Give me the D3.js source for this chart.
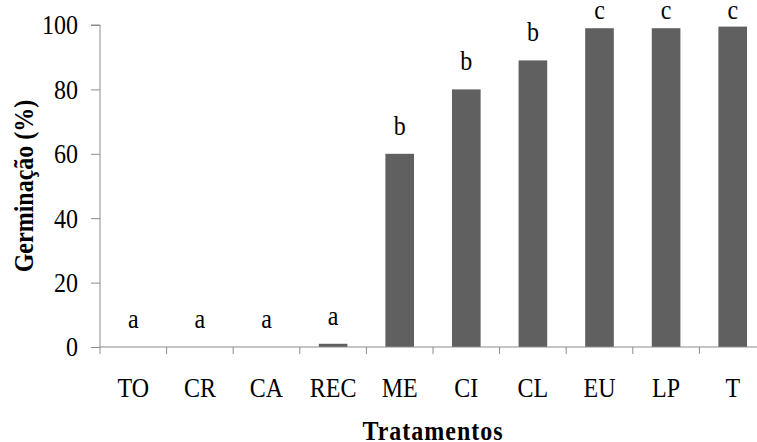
<!DOCTYPE html>
<html><head><meta charset="utf-8">
<script src="https://cdn.jsdelivr.net/npm/d3@7"></script>
<style>body{margin:0;background:#fff}svg{display:block}svg text{font-family:"Liberation Serif","Times New Roman",serif;fill:#000}</style>
</head><body><div id="c"></div>
<script>
const categories = ["TO","CR","CA","REC","ME","CI","CL","EU","LP","T"];
const values = [0,0,0,1,60,80,89,99,99,99.5];
const letters = ["a","a","a","a","b","b","b","c","c","c"];
const yTicks = [0,20,40,60,80,100];

const W=757,H=442, FS=24, SY=1.15;
const svg=d3.select("#c").append("svg").attr("width",W).attr("height",H);
const x=d3.scaleBand().domain(categories).range([100,766]).paddingInner(0.57).paddingOuter(0.285);
const y=d3.scaleLinear().domain([0,100]).range([347,25]);
const axisColor="#8c8c8c";

svg.append("g").selectAll("rect").data(categories).join("rect")
  .attr("x",d=>x(d)).attr("width",x.bandwidth())
  .attr("y",(d,i)=>y(values[i])).attr("height",(d,i)=>y(0)-y(values[i]))
  .attr("fill","#606060");

// y axis
const ya=svg.append("g").attr("transform","translate(100,0)")
  .call(d3.axisLeft(y).tickValues(yTicks).tickSize(9).tickPadding(13));
ya.attr("font-family",null);
ya.select(".domain").attr("stroke",axisColor).attr("d","M-9,"+y(100)+"H0V"+y(0));
ya.selectAll(".tick line").attr("stroke",axisColor);
ya.selectAll(".tick text").attr("font-size",FS).attr("fill","#000").attr("transform","scale(1,"+SY+")");

// x axis
const step=x.step();
const xa=svg.append("g").attr("transform","translate(0,"+y(0)+")");
xa.append("line").attr("x1",100).attr("x2",766).attr("stroke",axisColor);
xa.selectAll(".tk").data(d3.range(categories.length+1)).join("line")
  .attr("x1",i=>100+i*step).attr("x2",i=>100+i*step).attr("y1",0).attr("y2",7).attr("stroke",axisColor);
xa.selectAll(".lb").data(categories).join("text")
  .attr("transform",d=>"translate("+(x(d)+x.bandwidth()/2)+",50) scale(1,"+SY+")")
  .attr("text-anchor","middle").attr("font-size",FS).text(d=>d);

// letters
svg.append("g").selectAll("text").data(categories).join("text")
  .attr("transform",(d,i)=>"translate("+(x(d)+x.bandwidth()/2)+","+Math.max(18.5,y(values[i])-19)+") scale(1,"+SY+")")
  .attr("text-anchor","middle").attr("font-size",FS).text((d,i)=>letters[i]);

svg.append("text").attr("transform","translate(433,440) scale(1,"+SY+")").attr("text-anchor","middle")
  .attr("font-size",FS).attr("font-weight","bold").attr("letter-spacing",1).text("Tratamentos");
svg.append("text").attr("transform","translate(33,186) rotate(-90) scale(1,"+SY+")").attr("text-anchor","middle")
  .attr("font-size",FS).attr("font-weight","bold").text("Germinação (%)");
</script></body></html>
